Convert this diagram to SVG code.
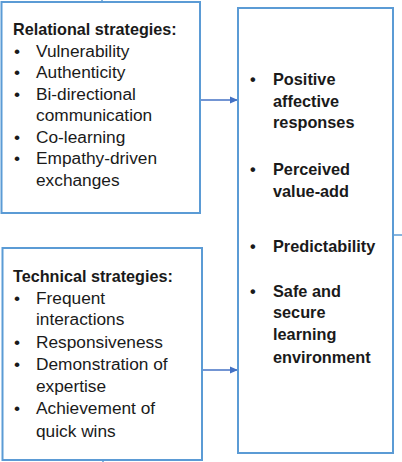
<svg xmlns="http://www.w3.org/2000/svg" width="402" height="462" viewBox="0 0 402 462">
<style>
.box{fill:#fff;stroke:#5B9BD5;stroke-width:2}
.t{font-family:"Liberation Sans",Arial,sans-serif;fill:#1a1a1a}
.h{font-weight:bold;font-size:16.2px}
.r{font-size:17.3px}
.b{font-weight:bold;font-size:16.3px}
.stub{stroke:#5B9BD5;stroke-width:1.5;fill:none}
.arr{stroke:#4472C4;stroke-width:1.5;fill:none;marker-end:url(#ah)}
</style>
<defs>
<marker id="ah" markerWidth="8" markerHeight="8" refX="7" refY="4" orient="auto" markerUnits="userSpaceOnUse">
<path d="M0,0.5 L8,4 L0,7.5 Z" fill="#4472C4"/>
</marker>
</defs>
<rect width="402" height="462" fill="#fff"/>
<g id="connectors">
<line class="stub" x1="102" y1="0" x2="102" y2="2"/>
<line class="stub" x1="103" y1="460" x2="103" y2="462"/>
<line class="stub" x1="393" y1="235" x2="402" y2="235"/>
<line class="arr" x1="201" y1="100" x2="237" y2="100"/>
<line class="arr" x1="203" y1="370" x2="237" y2="370"/>
</g>
<g id="relational">
<rect class="box" x="1.5" y="2" width="198.5" height="211"/>
<text class="t h" x="13" y="35">Relational strategies:</text>
<g class="t r">
<text x="14" y="57">•</text><text x="36" y="57">Vulnerability</text>
<text x="14" y="78">•</text><text x="36" y="78">Authenticity</text>
<text x="14" y="100">•</text><text x="36" y="100">Bi-directional</text>
<text x="36" y="121">communication</text>
<text x="14" y="143">•</text><text x="36" y="143">Co-learning</text>
<text x="14" y="164">•</text><text x="36" y="164">Empathy-driven</text>
<text x="36" y="186">exchanges</text>
</g>
</g>
<g id="technical">
<rect class="box" x="2.5" y="248" width="199.5" height="212"/>
<text class="t h" x="13" y="282">Technical strategies:</text>
<g class="t r">
<text x="14" y="304">•</text><text x="36" y="304">Frequent</text>
<text x="36" y="325">interactions</text>
<text x="14" y="348">•</text><text x="36" y="348">Responsiveness</text>
<text x="14" y="370">•</text><text x="36" y="370">Demonstration of</text>
<text x="36" y="392">expertise</text>
<text x="14" y="414">•</text><text x="36" y="414">Achievement of</text>
<text x="36" y="437">quick wins</text>
</g>
</g>
<g id="outcomes">
<rect class="box" x="238" y="8" width="155" height="445"/>
<g class="t b">
<text x="250" y="85">•</text><text x="273" y="85">Positive</text>
<text x="273" y="107">affective</text>
<text x="273" y="128">responses</text>
<text x="250" y="175">•</text><text x="273" y="175">Perceived</text>
<text x="273" y="197">value-add</text>
<text x="250" y="252">•</text><text x="273" y="252">Predictability</text>
<text x="250" y="297">•</text><text x="273" y="297">Safe and</text>
<text x="273" y="318">secure</text>
<text x="273" y="340">learning</text>
<text x="273" y="363">environment</text>
</g>
</g>
</svg>
